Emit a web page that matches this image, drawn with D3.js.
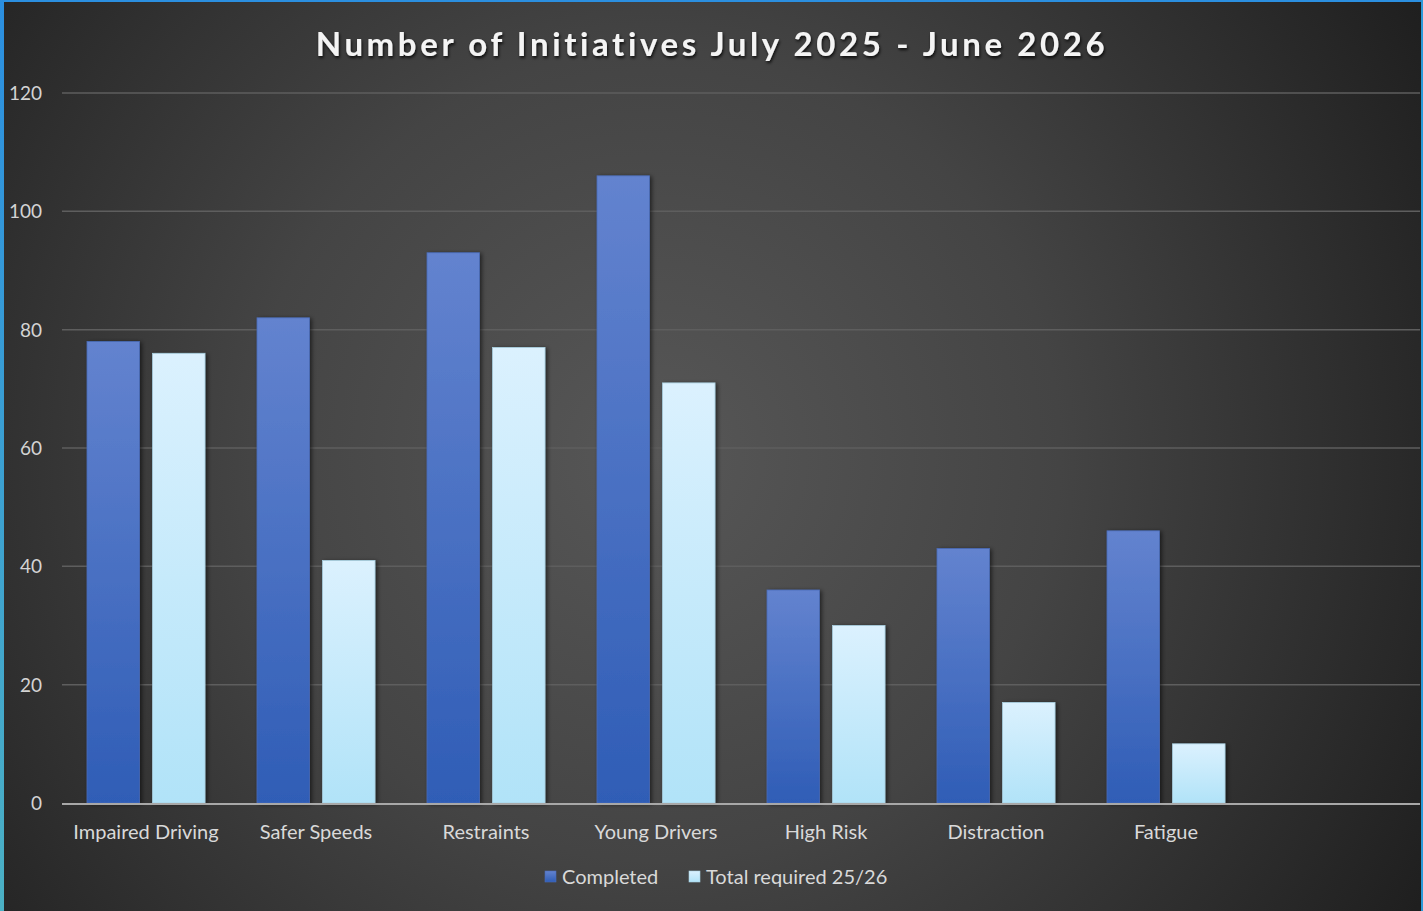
<!DOCTYPE html>
<html>
<head>
<meta charset="utf-8">
<script src="https://cdn.jsdelivr.net/npm/d3@7"></script>
<style>
  html, body { margin: 0; padding: 0; background: #222; }
  svg { display: block; }
</style>
</head>
<body>
<div id="chart"></div>
<script>
// Chart data
const categories = ["Impaired Driving", "Safer Speeds", "Restraints", "Young Drivers", "High Risk", "Distraction", "Fatigue"];
const completed = [78, 82, 93, 106, 36, 43, 46];
const totalRequired = [76, 41, 77, 71, 30, 17, 10];
const seriesNames = ["Completed", "Total required 25/26"];
const yTicks = [0, 20, 40, 60, 80, 100, 120];

const width = 1423;
const height = 911;
const margin = { left: 62, right: 3, top: 93, bottom: 108 };

const svg = d3.select("#chart")
    .append("svg")
    .attr("width", width)
    .attr("height", height)
    .style("font-family", "Lato, 'Open Sans', sans-serif");

const defs = svg.append("defs");

// Background radial gradient
const bg = defs.append("radialGradient")
    .attr("id", "bg")
    .attr("gradientUnits", "userSpaceOnUse")
    .attr("cx", 655).attr("cy", 455).attr("r", 900);
bg.append("stop").attr("offset", "0%").attr("stop-color", "#575757");
bg.append("stop").attr("offset", "45%").attr("stop-color", "#444444");
bg.append("stop").attr("offset", "100%").attr("stop-color", "#1e1e1e");

// Bar gradients
const gBlue = defs.append("linearGradient").attr("id", "gBlue").attr("x1", 0).attr("y1", 0).attr("x2", 0).attr("y2", 1);
gBlue.append("stop").attr("offset", "0%").attr("stop-color", "#6383cf");
gBlue.append("stop").attr("offset", "100%").attr("stop-color", "#2f5db6");
const gLight = defs.append("linearGradient").attr("id", "gLight").attr("x1", 0).attr("y1", 0).attr("x2", 0).attr("y2", 1);
gLight.append("stop").attr("offset", "0%").attr("stop-color", "#dbf1fe");
gLight.append("stop").attr("offset", "100%").attr("stop-color", "#b1e3f8");

// Left border gradient
const gEdge = defs.append("linearGradient").attr("id", "gEdge").attr("x1", 0).attr("y1", 0).attr("x2", 0).attr("y2", 1);
gEdge.append("stop").attr("offset", "0%").attr("stop-color", "#2b8fe0");
gEdge.append("stop").attr("offset", "100%").attr("stop-color", "#4bb0c4");

// Shadow filters
const shadow = defs.append("filter").attr("id", "shadow").attr("x", "-20%").attr("y", "-20%").attr("width", "140%").attr("height", "140%");
shadow.append("feDropShadow").attr("dx", 2).attr("dy", 1).attr("stdDeviation", 2).attr("flood-color", "#000").attr("flood-opacity", 0.55);
const tShadow = defs.append("filter").attr("id", "tShadow").attr("x", "-5%").attr("y", "-30%").attr("width", "110%").attr("height", "160%");
tShadow.append("feDropShadow").attr("dx", 1).attr("dy", 2).attr("stdDeviation", 1.5).attr("flood-color", "#000").attr("flood-opacity", 0.8);

svg.append("rect").attr("width", width).attr("height", height).attr("fill", "url(#bg)");

// Frame edges
svg.append("rect").attr("x", 0).attr("y", 0).attr("width", width).attr("height", 2).attr("fill", "#2b8fe0");
svg.append("rect").attr("x", 0).attr("y", 0).attr("width", 4).attr("height", height).attr("fill", "url(#gEdge)");
svg.append("rect").attr("x", width - 2).attr("y", 0).attr("width", 2).attr("height", height).attr("fill", "#2b9ad8");

// Scales
const plotRight = width - margin.right;
const bandStep = 170;
const x = d3.scaleBand()
    .domain(categories)
    .range([margin.left, margin.left + bandStep * categories.length]);

const x1 = d3.scaleBand()
    .domain(seriesNames)
    .range([25, 143])
    .paddingInner(0.2);

const y = d3.scaleLinear()
    .domain([0, 120])
    .range([height - margin.bottom, margin.top]);

// Gridlines
svg.append("g")
    .selectAll("line")
    .data(yTicks.filter(d => d > 0))
    .enter()
    .append("line")
    .attr("x1", margin.left)
    .attr("x2", plotRight)
    .attr("y1", d => y(d))
    .attr("y2", d => y(d))
    .attr("stroke", "#5e5e5e")
    .attr("stroke-width", 1.5);

// Y tick labels
svg.append("g")
    .selectAll("text")
    .data(yTicks)
    .enter()
    .append("text")
    .attr("x", 42)
    .attr("y", d => y(d))
    .attr("dy", "0.36em")
    .attr("text-anchor", "end")
    .attr("fill", "#d4d4d4")
    .style("font-size", "19px")
    .text(d => d);

// Bars
const rows = categories.map((c, i) => ({ category: c, values: [completed[i], totalRequired[i]] }));
const fills = ["url(#gBlue)", "url(#gLight)"];
const strokes = ["#4a6cb8", "#a9cfe0"];

const groups = svg.append("g")
    .selectAll("g")
    .data(rows)
    .enter()
    .append("g")
    .attr("transform", d => `translate(${x(d.category)},0)`);

groups.selectAll("rect")
    .data(d => d.values.map((v, i) => ({ key: seriesNames[i], value: v, i })))
    .enter()
    .append("rect")
    .attr("x", d => x1(d.key))
    .attr("width", x1.bandwidth())
    .attr("y", d => y(d.value))
    .attr("height", d => y(0) - y(d.value))
    .attr("fill", d => fills[d.i])
    .attr("stroke", d => strokes[d.i])
    .attr("stroke-width", 0.8)
    .attr("filter", "url(#shadow)");

// X axis line
svg.append("line")
    .attr("x1", margin.left)
    .attr("x2", plotRight)
    .attr("y1", y(0) + 1)
    .attr("y2", y(0) + 1)
    .attr("stroke", "#a8a8a8")
    .attr("stroke-width", 2);

// Category labels
svg.append("g")
    .selectAll("text")
    .data(categories)
    .enter()
    .append("text")
    .attr("x", d => x(d) + x1.range()[0] + (x1.range()[1] - x1.range()[0]) / 2)
    .attr("y", 839)
    .attr("text-anchor", "middle")
    .attr("fill", "#d9d9d9")
    .style("font-size", "20px")
    .text(d => d);

// Title
svg.append("text")
    .attr("x", 712)
    .attr("y", 56)
    .attr("text-anchor", "middle")
    .attr("fill", "#f4f4f4")
    .attr("filter", "url(#tShadow)")
    .style("font-size", "33px")
    .style("font-weight", "bold")
    .style("letter-spacing", "3.6px")
    .text("Number of Initiatives July 2025 - June 2026");

// Legend
const legendX = [545, 689];
const legend = svg.append("g");
legend.selectAll("rect")
    .data(seriesNames)
    .enter()
    .append("rect")
    .attr("x", (d, i) => legendX[i])
    .attr("y", 871)
    .attr("width", 11)
    .attr("height", 11)
    .attr("fill", (d, i) => fills[i])
    .attr("stroke", (d, i) => strokes[i])
    .attr("stroke-width", 0.6);

legend.selectAll("text")
    .data(seriesNames)
    .enter()
    .append("text")
    .attr("x", (d, i) => legendX[i] + 17)
    .attr("y", 884)
    .attr("fill", "#d9d9d9")
    .style("font-size", "20px")
    .text(d => d);
</script>
</body>
</html>
